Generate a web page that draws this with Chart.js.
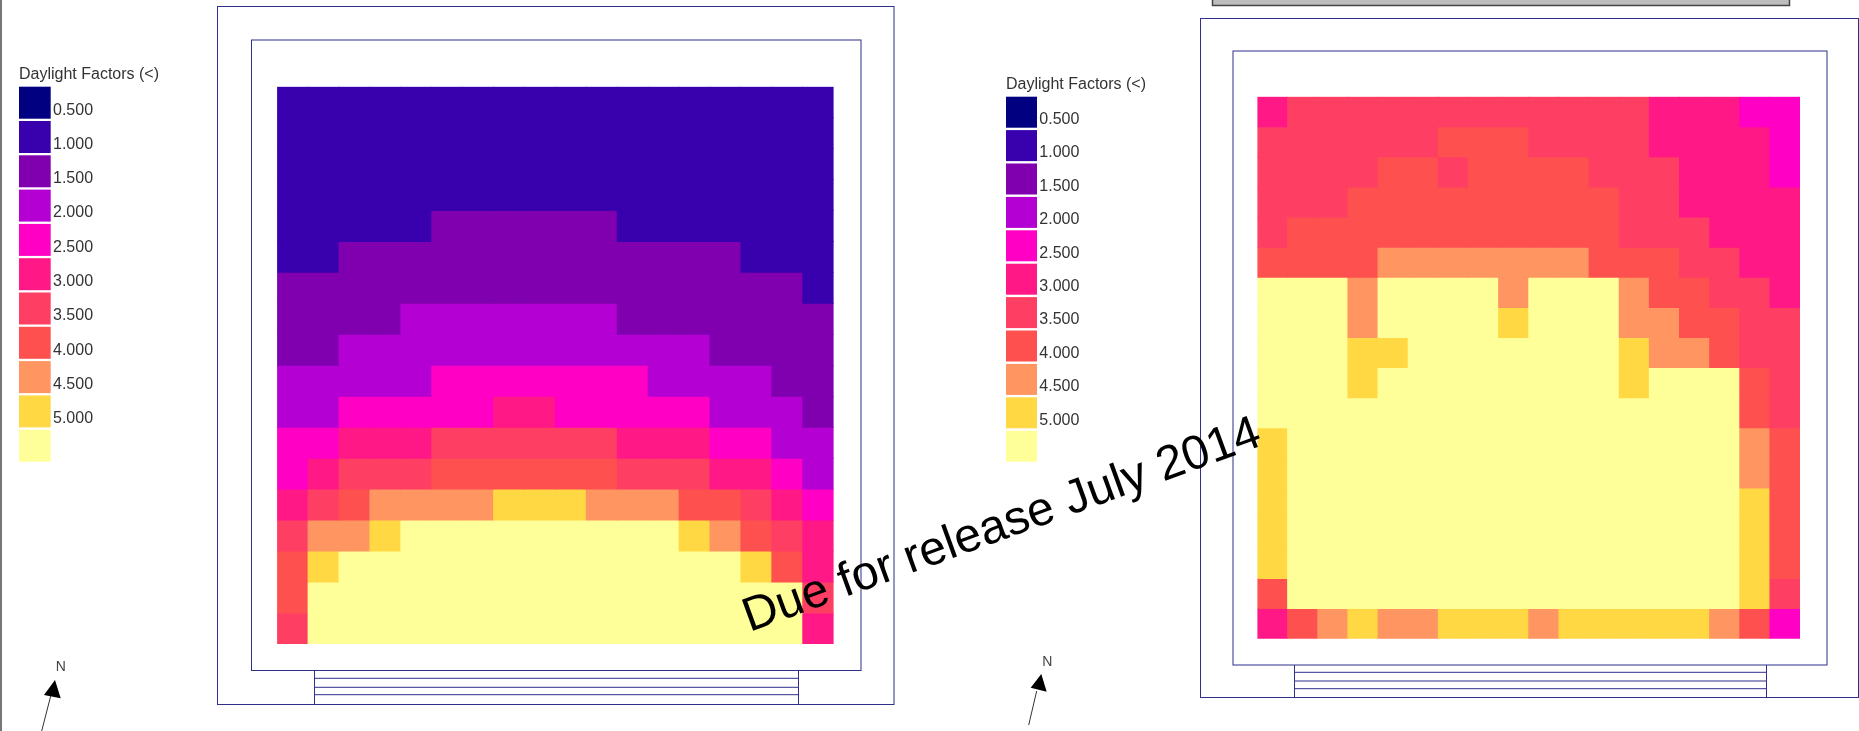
<!DOCTYPE html>
<html>
<head>
<meta charset="utf-8">
<title>Daylight Factors</title>
<script src="https://cdn.jsdelivr.net/npm/chart.js@4"></script>
<style>
  html, body { margin: 0; padding: 0; background: #fff; overflow: hidden; }
  canvas { position: absolute; left: 0; top: 0; }
</style>
</head>
<body>
<canvas id="leftPlan" width="1859" height="731"></canvas>
<canvas id="rightPlan" width="1859" height="731"></canvas>
<script>
const legendTitle = 'Daylight Factors (<)';
const legendLabels = ['0.500', '1.000', '1.500', '2.000', '2.500', '3.000', '3.500', '4.000', '4.500', '5.000', ''];
const bandColors = ['#000080', '#3900ae', '#8000b0', '#b400d2', '#ff00c4', '#ff1886', '#ff3e64', '#ff5050', '#ff9560', '#ffd843', '#ffff99'];
const columns = ['1', '2', '3', '4', '5', '6', '7', '8', '9', '10', '11', '12', '13', '14', '15', '16', '17', '18'];

// each number is the legend band of one cell
const leftBands = [
  [1, 1, 1, 1, 1, 1, 1, 1, 1, 1, 1, 1, 1, 1, 1, 1, 1, 1],
  [1, 1, 1, 1, 1, 1, 1, 1, 1, 1, 1, 1, 1, 1, 1, 1, 1, 1],
  [1, 1, 1, 1, 1, 1, 1, 1, 1, 1, 1, 1, 1, 1, 1, 1, 1, 1],
  [1, 1, 1, 1, 1, 1, 1, 1, 1, 1, 1, 1, 1, 1, 1, 1, 1, 1],
  [1, 1, 1, 1, 1, 2, 2, 2, 2, 2, 2, 1, 1, 1, 1, 1, 1, 1],
  [1, 1, 2, 2, 2, 2, 2, 2, 2, 2, 2, 2, 2, 2, 2, 1, 1, 1],
  [2, 2, 2, 2, 2, 2, 2, 2, 2, 2, 2, 2, 2, 2, 2, 2, 2, 1],
  [2, 2, 2, 2, 3, 3, 3, 3, 3, 3, 3, 2, 2, 2, 2, 2, 2, 2],
  [2, 2, 3, 3, 3, 3, 3, 3, 3, 3, 3, 3, 3, 3, 2, 2, 2, 2],
  [3, 3, 3, 3, 3, 4, 4, 4, 4, 4, 4, 4, 3, 3, 3, 3, 2, 2],
  [3, 3, 4, 4, 4, 4, 4, 5, 5, 4, 4, 4, 4, 4, 3, 3, 3, 2],
  [4, 4, 5, 5, 5, 6, 6, 6, 6, 6, 6, 5, 5, 5, 4, 4, 3, 3],
  [4, 5, 6, 6, 6, 7, 7, 7, 7, 7, 7, 6, 6, 6, 5, 5, 4, 3],
  [5, 6, 7, 8, 8, 8, 8, 9, 9, 9, 8, 8, 8, 7, 7, 6, 5, 4],
  [6, 8, 8, 9, 10, 10, 10, 10, 10, 10, 10, 10, 10, 9, 8, 7, 6, 5],
  [7, 9, 10, 10, 10, 10, 10, 10, 10, 10, 10, 10, 10, 10, 10, 9, 7, 5],
  [7, 10, 10, 10, 10, 10, 10, 10, 10, 10, 10, 10, 10, 10, 10, 10, 10, 6],
  [6, 10, 10, 10, 10, 10, 10, 10, 10, 10, 10, 10, 10, 10, 10, 10, 10, 5]
];
const rightBands = [
  [5, 6, 6, 6, 6, 6, 6, 6, 6, 6, 6, 6, 6, 5, 5, 5, 4, 4],
  [6, 6, 6, 6, 6, 6, 7, 7, 7, 6, 6, 6, 6, 5, 5, 5, 5, 4],
  [6, 6, 6, 6, 7, 7, 6, 7, 7, 7, 7, 6, 6, 6, 5, 5, 5, 4],
  [6, 6, 6, 7, 7, 7, 7, 7, 7, 7, 7, 7, 6, 6, 5, 5, 5, 5],
  [6, 7, 7, 7, 7, 7, 7, 7, 7, 7, 7, 7, 6, 6, 6, 5, 5, 5],
  [7, 7, 7, 7, 8, 8, 8, 8, 8, 8, 8, 7, 7, 7, 6, 6, 5, 5],
  [10, 10, 10, 8, 10, 10, 10, 10, 8, 10, 10, 10, 8, 7, 7, 6, 6, 5],
  [10, 10, 10, 8, 10, 10, 10, 10, 9, 10, 10, 10, 8, 8, 7, 7, 6, 6],
  [10, 10, 10, 9, 9, 10, 10, 10, 10, 10, 10, 10, 9, 8, 8, 7, 6, 6],
  [10, 10, 10, 9, 10, 10, 10, 10, 10, 10, 10, 10, 9, 10, 10, 10, 7, 6],
  [10, 10, 10, 10, 10, 10, 10, 10, 10, 10, 10, 10, 10, 10, 10, 10, 7, 6],
  [9, 10, 10, 10, 10, 10, 10, 10, 10, 10, 10, 10, 10, 10, 10, 10, 8, 7],
  [9, 10, 10, 10, 10, 10, 10, 10, 10, 10, 10, 10, 10, 10, 10, 10, 8, 7],
  [9, 10, 10, 10, 10, 10, 10, 10, 10, 10, 10, 10, 10, 10, 10, 10, 9, 7],
  [9, 10, 10, 10, 10, 10, 10, 10, 10, 10, 10, 10, 10, 10, 10, 10, 9, 7],
  [9, 10, 10, 10, 10, 10, 10, 10, 10, 10, 10, 10, 10, 10, 10, 10, 9, 7],
  [7, 10, 10, 10, 10, 10, 10, 10, 10, 10, 10, 10, 10, 10, 10, 10, 9, 6],
  [5, 7, 8, 9, 8, 8, 9, 9, 9, 8, 9, 9, 9, 9, 9, 8, 7, 4]
];

const lineColor = '#2f2f8c';
const font = '"Liberation Sans", Arial, sans-serif';

// page furniture around one grid: walls, glazing, legend and north arrow
const leftLayout = {
  grid: { left: 277.1, top: 86.7, right: 833.6, bottom: 644 },
  outer: [217.5, 6.5, 894, 704.5],
  inner: [251.5, 40, 861, 670.5],
  glazing: { left: 314, right: 798, lines: [678.3, 687.3, 694.7], top: 670.5, bottom: 704.5 },
  legend: { x: 19, titleY: 79, top: 86.7, step: 34.3, w: 31.7, h: 32, labelX: 53, labelY: 114.5, size: 16 },
  north: { n: [60.7, 672.5], tip: [55, 680], a: [44, 695], b: [60.7, 698.3], from: [50.7, 696], to: [41.7, 731] }
};
const rightLayout = {
  grid: { left: 1257.4, top: 96.7, right: 1800, bottom: 638.7 },
  outer: [1200.5, 18.5, 1858.5, 697.5],
  inner: [1233, 51, 1827, 665],
  glazing: { left: 1294, right: 1766, lines: [672.3, 681, 688.7], top: 665, bottom: 697.5 },
  legend: { x: 1006, titleY: 89, top: 96.7, step: 33.4, w: 31, h: 31, labelX: 1039.3, labelY: 124, size: 16 },
  north: { n: [1047.3, 667.5], tip: [1041.3, 674], a: [1030.7, 687.7], b: [1046.7, 691.7], from: [1036.7, 691], to: [1028.7, 725] }
};

const planPlugin = {
  id: 'plan',
  beforeDraw(chart, args, opts) {
    const ctx = chart.ctx;
    const lay = opts.layout;
    ctx.save();
    ctx.strokeStyle = lineColor;
    ctx.lineWidth = 1;
    for (const r of [lay.outer, lay.inner]) {
      ctx.strokeRect(r[0], r[1], r[2] - r[0], r[3] - r[1]);
    }
    const g = lay.glazing;
    ctx.beginPath();
    ctx.moveTo(g.left + 0.5, g.top);
    ctx.lineTo(g.left + 0.5, g.bottom);
    ctx.moveTo(g.right + 0.5, g.top);
    ctx.lineTo(g.right + 0.5, g.bottom);
    for (const y of g.lines) {
      ctx.moveTo(g.left, y);
      ctx.lineTo(g.right, y);
    }
    ctx.stroke();

    // legend
    const l = lay.legend;
    ctx.fillStyle = '#333';
    ctx.textBaseline = 'alphabetic';
    ctx.font = l.size + 'px ' + font;
    ctx.fillText(legendTitle, l.x, l.titleY);
    bandColors.forEach((c, i) => {
      ctx.fillStyle = c;
      ctx.fillRect(l.x, l.top + i * l.step, l.w, l.h);
      ctx.fillStyle = '#333';
      ctx.fillText(legendLabels[i], l.labelX, l.labelY + i * l.step);
    });

    // north arrow
    const n = lay.north;
    ctx.fillStyle = '#444';
    ctx.font = '14px ' + font;
    ctx.textAlign = 'center';
    ctx.textBaseline = 'middle';
    ctx.fillText('N', n.n[0], n.n[1] - 5);
    ctx.fillStyle = '#000';
    ctx.beginPath();
    ctx.moveTo(n.tip[0], n.tip[1]);
    ctx.lineTo(n.a[0], n.a[1]);
    ctx.lineTo(n.b[0], n.b[1]);
    ctx.closePath();
    ctx.fill();
    ctx.strokeStyle = '#333';
    ctx.beginPath();
    ctx.moveTo(n.from[0], n.from[1]);
    ctx.lineTo(n.to[0], n.to[1]);
    ctx.stroke();
    ctx.restore();
  }
};

// goes on the top canvas so it runs over both plans
const overlayPlugin = {
  id: 'overlay',
  afterDraw(chart) {
    const ctx = chart.ctx;
    ctx.save();
    // cut-off window bits at the screenshot edges
    ctx.fillStyle = '#777';
    ctx.fillRect(0, 0, 2, 731);
    ctx.fillStyle = '#bdbdbd';
    ctx.fillRect(1213, 0, 576, 5);
    ctx.strokeStyle = '#444';
    ctx.lineWidth = 1.5;
    ctx.beginPath();
    ctx.moveTo(1212.5, 0);
    ctx.lineTo(1212.5, 5.5);
    ctx.lineTo(1789.5, 5.5);
    ctx.lineTo(1789.5, 0);
    ctx.stroke();
    // watermark
    ctx.translate(749.5, 632);
    ctx.rotate(-20 * Math.PI / 180);
    ctx.fillStyle = '#000';
    ctx.font = '48px ' + font;
    ctx.textBaseline = 'alphabetic';
    ctx.fillText('Due for release July 2014', 0, 0);
    ctx.restore();
  }
};

function drawPlan(id, bands, layout, plugins) {
  const g = layout.grid;
  return new Chart(document.getElementById(id), {
    type: 'bar',
    data: {
      labels: columns,
      datasets: bands.map(row => ({
        data: row.map(() => 1),
        backgroundColor: row.map(b => bandColors[b]),
        borderWidth: 0,
        inflateAmount: 0.4,
        barPercentage: 1,
        categoryPercentage: 1
      }))
    },
    options: {
      responsive: false,
      animation: false,
      layout: { padding: { left: g.left, top: g.top, right: 1859 - g.right, bottom: 731 - g.bottom } },
      scales: {
        x: { display: false, stacked: true },
        y: { display: false, stacked: true, reverse: true, min: 0, max: bands.length }
      },
      plugins: { legend: { display: false }, tooltip: { enabled: false }, plan: { layout } }
    },
    plugins
  });
}

drawPlan('leftPlan', leftBands, leftLayout, [planPlugin]);
drawPlan('rightPlan', rightBands, rightLayout, [planPlugin, overlayPlugin]);
</script>
</body>
</html>
